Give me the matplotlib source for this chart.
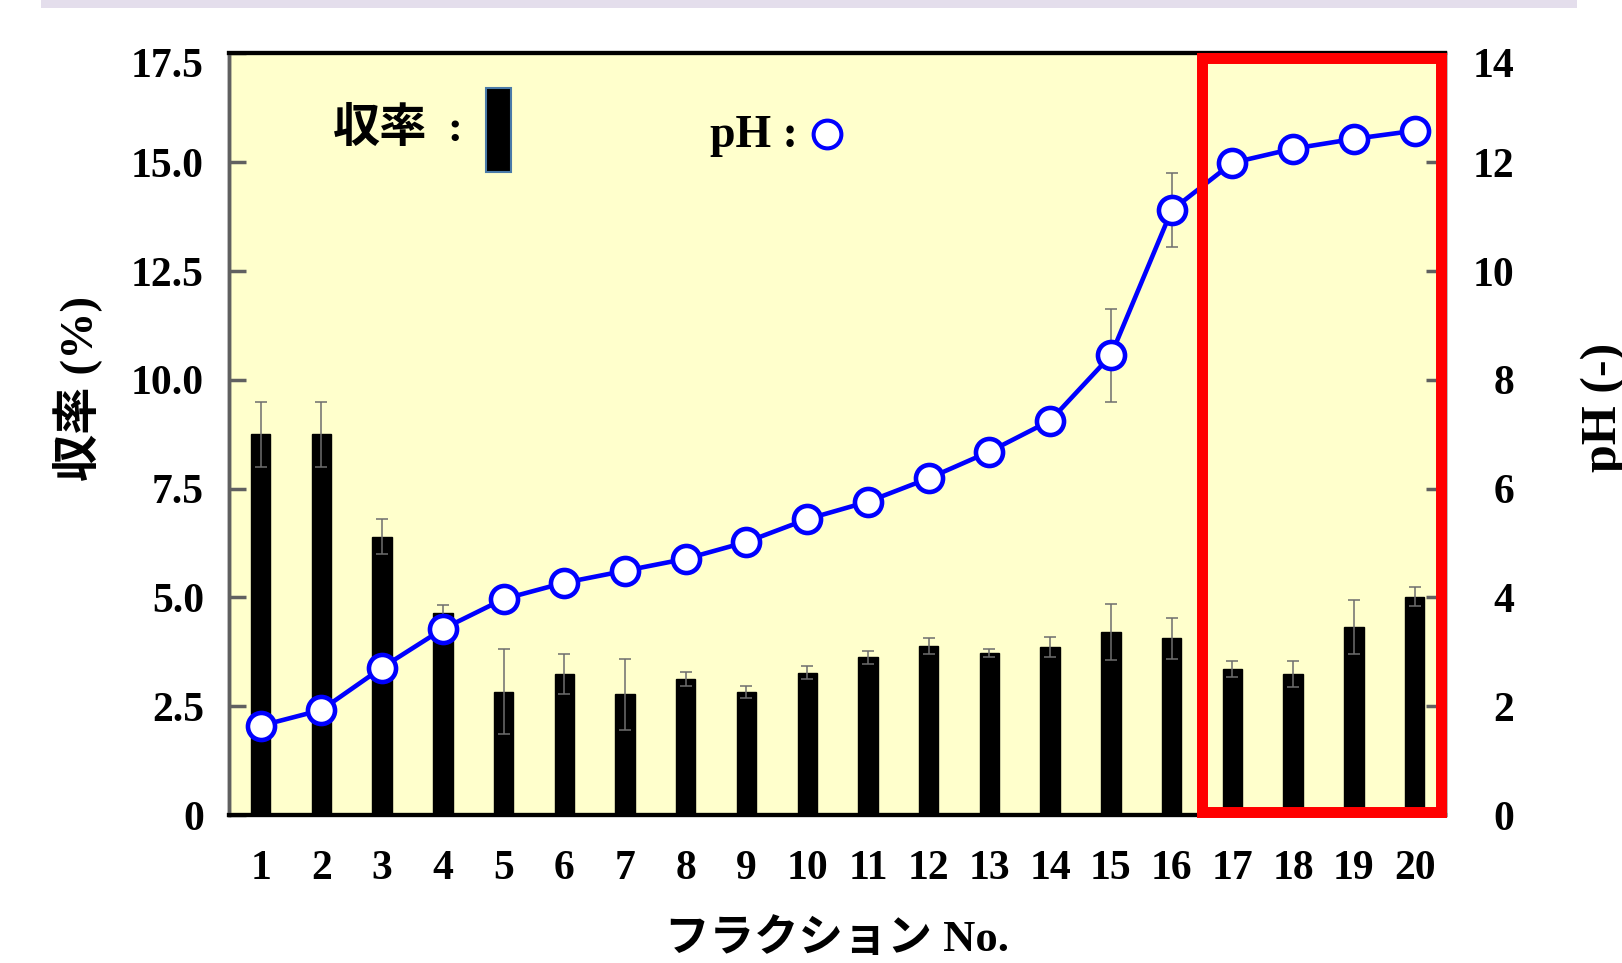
import numpy as np
import matplotlib
matplotlib.use("Agg")
import matplotlib.pyplot as plt
from matplotlib.patches import Rectangle
from matplotlib.lines import Line2D
from matplotlib.transforms import ScaledTranslation

# ---- data ----
fractions = list(range(1, 21))
yield_pct = [8.75, 8.75, 6.40, 4.64, 2.83, 3.24, 2.77, 3.13, 2.83, 3.27,
             3.62, 3.89, 3.72, 3.87, 4.21, 4.06, 3.36, 3.24, 4.33, 5.02]
yield_err = [0.75, 0.75, 0.41, 0.19, 0.98, 0.47, 0.81, 0.16, 0.14, 0.15,
             0.15, 0.18, 0.09, 0.23, 0.65, 0.47, 0.18, 0.29, 0.62, 0.22]
ph = [1.64, 1.93, 2.71, 3.42, 3.97, 4.27, 4.49, 4.71, 5.02, 5.44,
      5.76, 6.19, 6.68, 7.25, 8.45, 11.12, 11.99, 12.25, 12.43, 12.58]
ph_err = [0, 0, 0, 0, 0, 0, 0, 0, 0, 0,
          0, 0, 0, 0, 0.86, 0.68, 0, 0, 0, 0]
yticks_left = [0, 2.5, 5.0, 7.5, 10.0, 12.5, 15.0, 17.5]
yticklabels_left = ["0", "2.5", "5.0", "7.5", "10.0", "12.5", "15.0", "17.5"]
yticks_right = [0, 2, 4, 6, 8, 10, 12, 14]
highlight = (17, 20)

SERIF_CJK = ["Liberation Serif", "Noto Sans CJK JP"]

W, H = 1622, 963
fig = plt.figure(figsize=(W / 100, H / 100), dpi=100)
fig.patch.set_facecolor("white")

# top lavender band
fig.add_artist(Rectangle((41 / W, 1 - 8 / H), (1577 - 41) / W, 8 / H,
                         transform=fig.transFigure, facecolor="#E4DEEC",
                         edgecolor="none"))

ax = fig.add_axes([229 / W, 1 - 815 / H, (1445 - 229) / W, (815 - 53.5) / H])
ax.set_facecolor("#FFFFCC")
ax.set_xlim(0.48, 20.5)
ax.set_ylim(0, 17.5)

ax.bar(fractions, yield_pct, width=0.32, color="black", edgecolor="black",
       zorder=2)
ax.errorbar(fractions, yield_pct, yerr=yield_err, fmt="none", ecolor="#6e6e6e",
            elinewidth=1.1, capsize=4.5, capthick=1.1, zorder=3)

ax.set_yticks(yticks_left)
ax.set_yticklabels(yticklabels_left)
ax.set_xticks(fractions)
ax.set_xticklabels([str(f) for f in fractions])
ax.tick_params(axis="y", direction="in", length=12, width=2.5, color="#606060",
               pad=18, labelsize=30)
ax.tick_params(axis="x", length=0, pad=25, labelsize=30)
for lab in ax.get_xticklabels() + ax.get_yticklabels():
    lab.set_family("Liberation Serif")
    lab.set_weight("bold")

ax2 = ax.twinx()
ax2.set_ylim(0, 14)
ax2.set_yticks(yticks_right)
ax2.tick_params(axis="y", direction="in", length=14, width=2.5, color="#606060",
                pad=50, labelsize=30)
for lab in ax2.get_yticklabels():
    lab.set_family("Liberation Serif")
    lab.set_weight("bold")
    lab.set_ha("right")

# the topmost labels sit a little below their ticks in the reference
shift = ScaledTranslation(0, -9 / 100, fig.dpi_scale_trans)
for lab in (ax.get_yticklabels()[-1], ax2.get_yticklabels()[-1]):
    lab.set_transform(lab.get_transform() + shift)

ph_x = [f for f, e in zip(fractions, ph_err) if e > 0]
ph_y = [p for p, e in zip(ph, ph_err) if e > 0]
ph_e = [e for e in ph_err if e > 0]
ax2.errorbar(ph_x, ph_y, yerr=ph_e, fmt="none", ecolor="#6e6e6e",
             elinewidth=1.1, capsize=4.5, capthick=1.1, zorder=2)
ax2.plot(fractions, ph, color="#0000FF", lw=3.3, marker="o", markersize=19.5,
         markerfacecolor="white", markeredgecolor="#0000FF",
         markeredgewidth=3.3, zorder=3)

# highlight box
x0 = highlight[0] - 0.5
x1 = highlight[1] + 0.43
ax2.add_patch(Rectangle((x0, 0.05), x1 - x0, 13.86, fill=False,
                        edgecolor="#FF0000", lw=7.9, zorder=10, clip_on=False))

for a in (ax, ax2):
    a.spines["top"].set_color("black")
    a.spines["top"].set_linewidth(3)
    a.spines["bottom"].set_color("black")
    a.spines["bottom"].set_linewidth(3)
    a.spines["left"].set_color("#606060")
    a.spines["left"].set_linewidth(2.5)
    a.spines["right"].set_color("#606060")
    a.spines["right"].set_linewidth(2.5)

# axis labels
fig.text(77.5 / W, 1 - 388 / H, "収率 (%)", rotation=90, ha="center",
         va="center", fontsize=34, fontweight="bold", family=SERIF_CJK)
fig.text(1604 / W, 1 - 407 / H, "pH (-)", rotation=90, ha="center",
         va="center", fontsize=36, fontweight="bold", family="Liberation Serif")
fig.text(837 / W, 1 - 940 / H, "フラクション No.", ha="center", va="center",
         fontsize=32, fontweight="bold", family=SERIF_CJK)

# legend
fig.text(333 / W, 1 - 130 / H, "収率", ha="left", va="center",
         fontsize=34, fontweight="bold", family=SERIF_CJK)
fig.text(455 / W, 1 - 130 / H, ":", ha="center", va="center",
         fontsize=32, fontweight="bold", family="Liberation Serif")
fig.add_artist(Rectangle((486 / W, 1 - 172 / H), 25 / W, 84 / H,
                         transform=fig.transFigure, facecolor="black",
                         edgecolor="#4a7aa8", lw=1.5, zorder=20))
fig.text(710 / W, 1 - 147 / H, "pH :", ha="left", va="baseline",
         fontsize=33, fontweight="bold", family="Liberation Serif")
fig.add_artist(Line2D([827 / W], [1 - 134 / H], transform=fig.transFigure,
                      marker="o", markersize=20, markerfacecolor="white",
                      markeredgecolor="#0000FF", markeredgewidth=2.9,
                      linestyle="none", zorder=20))

fig.savefig("out.png", dpi=100)
